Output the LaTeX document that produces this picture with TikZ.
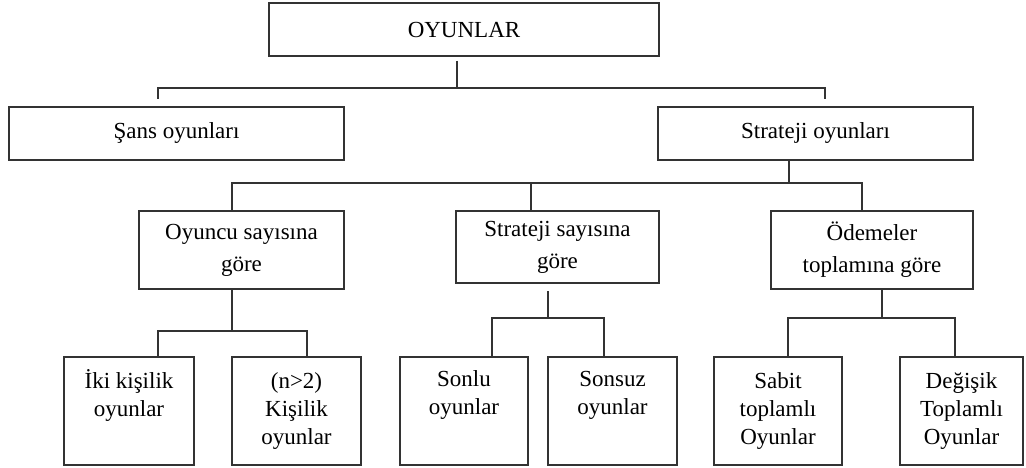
\documentclass[tikz,border=0pt]{standalone}
\usepackage{fontspec}
\setmainfont{Liberation Serif}
\usepackage{tikz}
\usetikzlibrary{positioning}
\definecolor{treegray}{HTML}{333333}

\begin{document}
\begin{tikzpicture}[
  x=1pt, y=-1pt,
  font=\fontsize{23}{28}\selectfont,
  box/.style={rectangle, draw=treegray, line width=1.3pt, fill=white,
    align=center, inner sep=0pt, outer sep=0pt, anchor=north west},
  top/.style={box, minimum height=53pt},
  mid/.style={box, minimum height=78pt, font=\fontsize{23}{32}\selectfont},
  leaf/.style={box, minimum height=108pt},
  tie/.style={treegray, line width=1.3pt}]
  \useasboundingbox (0,0) rectangle (1026,468);
  % levels 0 and 1
  \node[top, minimum width=390pt] (oyun) at (269,3) {OYUNLAR};
  \node[top, minimum width=335pt] (sans) at (9,107) {Şans oyunları};
  \node[top, minimum width=315pt, right=314pt of sans, anchor=west] (strat) {Strateji oyunları};
  % level 2
  \node[mid, minimum width=205pt] (oyuncu) at (139,211) {Oyuncu sayısına\\göre};
  \node[mid, minimum width=203pt, minimum height=72pt] (stsay) at (456,211) {Strateji sayısına\\göre};
  \node[mid, minimum width=202pt] (odeme) at (771,211) {Ödemeler\\toplamına göre};
  % level 3
  \node[leaf, minimum width=130pt] (iki) at (64,357) {İki kişilik\\oyunlar\\\strut};
  \node[leaf, minimum width=129pt, right=38pt of iki, anchor=west] (nkisi) {(n>2)\\Kişilik\\oyunlar};
  \node[leaf, minimum width=128pt] (sonlu) at (400,357) {Sonlu\\oyunlar\\\strut};
  \node[leaf, minimum width=129pt, right=20pt of sonlu, anchor=west] (sonsuz) {Sonsuz\\oyunlar\\\strut};
  \node[leaf, minimum width=128pt] (sabit) at (714,357) {Sabit\\toplamlı\\Oyunlar};
  \node[leaf, minimum width=123pt, right=58pt of sabit, anchor=west] (degis) {Değişik\\Toplamlı\\Oyunlar};
  % connectors
  \draw[tie] ([xshift=-7pt,yshift=-5pt]oyun.south) -- ++(0,27) -| ([xshift=-18.5pt,yshift=8pt]sans.north);
  \draw[tie] ([xshift=-7pt,yshift=-5pt]oyun.south) -- ++(0,27) -| ([xshift=9.5pt,yshift=8pt]strat.north);
  \draw[tie] ([xshift=-26.5pt]strat.south) -- ++(0,23) -| ([xshift=-9.5pt]oyuncu.north);
  \draw[tie] ([xshift=-26.5pt]strat.south) -- ++(0,23) -| ([xshift=-26.5pt]stsay.north);
  \draw[tie] ([xshift=-26.5pt]strat.south) -- ++(0,23) -| ([xshift=-10pt]odeme.north);
  \draw[tie] ([xshift=-9.5pt]oyuncu.south) -- ++(0,42) -| ([xshift=29pt]iki.north);
  \draw[tie] ([xshift=-9.5pt]oyuncu.south) -- ++(0,42) -| ([xshift=10.5pt]nkisi.north);
  \draw[tie] ([xshift=-9.5pt,yshift=-8pt]stsay.south) -- ++(0,27) -| ([xshift=28pt]sonlu.north);
  \draw[tie] ([xshift=-9.5pt,yshift=-8pt]stsay.south) -- ++(0,27) -| ([xshift=-8.5pt]sonsuz.north);
  \draw[tie] ([xshift=10pt]odeme.south) -- ++(0,29) -| ([xshift=10pt]sabit.north);
  \draw[tie] ([xshift=10pt]odeme.south) -- ++(0,29) -| ([xshift=-6.5pt]degis.north);
\end{tikzpicture}
\end{document}
